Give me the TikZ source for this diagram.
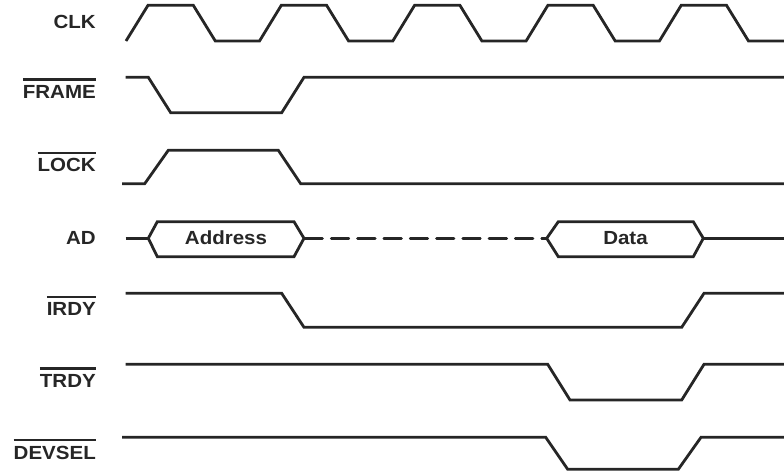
\documentclass[tikz,border=0pt]{standalone}
\usepackage{fontspec}
\setmainfont{Liberation Sans}[FakeStretch=1.08]
\usepackage{tikz}
\newcommand{\barsig}[1]{\vbox{\hrule height 2.2pt\kern 4.6pt\hbox{#1}}}

\begin{document}
\begin{tikzpicture}[
                x=1pt, y=-1pt,
                sig/.style={line width=2.8pt, line join=miter, black!85},
                lbl/.style={anchor=base east, inner sep=0pt, black!85, font=\fontsize{19}{22}\selectfont\bfseries},
                bus/.style={anchor=base, inner sep=0pt, black!85, font=\fontsize{19}{22}\selectfont\bfseries}
            ]
                \def\T{133.3}
                \useasboundingbox (0,0) rectangle (784,471);
                % signal names
                \node[lbl] (clk)    at (96,28.3)  {CLK};
                \node[lbl] (frame)  at (96,98.3)  {\barsig{FRAME}};
                \node[lbl] (lock)   at (96,171.7) {\barsig{LOCK}};
                \node[lbl] (ad)     at (96,244.3) {AD};
                \node[lbl] (irdy)   at (96,315.7) {\barsig{IRDY}};
                \node[lbl] (trdy)   at (96,387.3) {\barsig{TRDY}};
                \node[lbl] (devsel) at (96,459)   {\barsig{DEVSEL}};
                % clock
                \draw[sig] (126,41) foreach \k in {0,...,4} {
                    -- ({148+\T*\k},5.3) -- ({193.3+\T*\k},5.3) -- ({215.3+\T*\k},41) -- ({259.5+\T*\k},41)};
                \draw[sig] (125.7,77.3) -- (148.3,77.3) -- (170.7,112.7) -- (281.7,112.7) -- (304,77.3) -- (784,77.3);
                \draw[sig] (122,183.7) -- (144.7,183.7) -- (168.3,150.3) -- (278.3,150.3) -- (300.7,183.7) -- (784,183.7);
                % address / data bus
                \begin{scope}[sig]
                    \node[bus] (addr) at (226,244.3) {Address};
                    \node[bus] (data) at (625.5,244.3) {Data};
                    \draw (125.7,238.3) -- (148.3,238.3);
                    \draw (148.3,238.3) -- (157.3,221.7) -- (294,221.7) -- (304,238.3) -- (294,256.7) -- (157.3,256.7) -- cycle;
                    \draw[dash pattern=on 17.5pt off 8.8pt, line cap=round] (305,238.3) -- (545.7,238.3);
                    \draw (546.7,238.3) -- (558.3,221.7) -- (693.3,221.7) -- (703.3,238.3) -- (693.3,256.7) -- (558.3,256.7) -- cycle;
                    \draw (703.3,238.3) -- (784,238.3);
                \end{scope}
                \draw[sig] (125.7,293.3) -- (281.7,293.3) -- (304,327.3) -- (681.7,327.3) -- (704,293.3) -- (784,293.3);
                \draw[sig] (125.7,364.3) -- (547.7,364.3) -- (570,400) -- (681.7,400) -- (704,364.3) -- (784,364.3);
                \draw[sig] (122,437.3) -- (545.7,437.3) -- (567.7,469.3) -- (678.3,469.3) -- (701,437.3) -- (784,437.3);
            \end{tikzpicture}
\end{document}
